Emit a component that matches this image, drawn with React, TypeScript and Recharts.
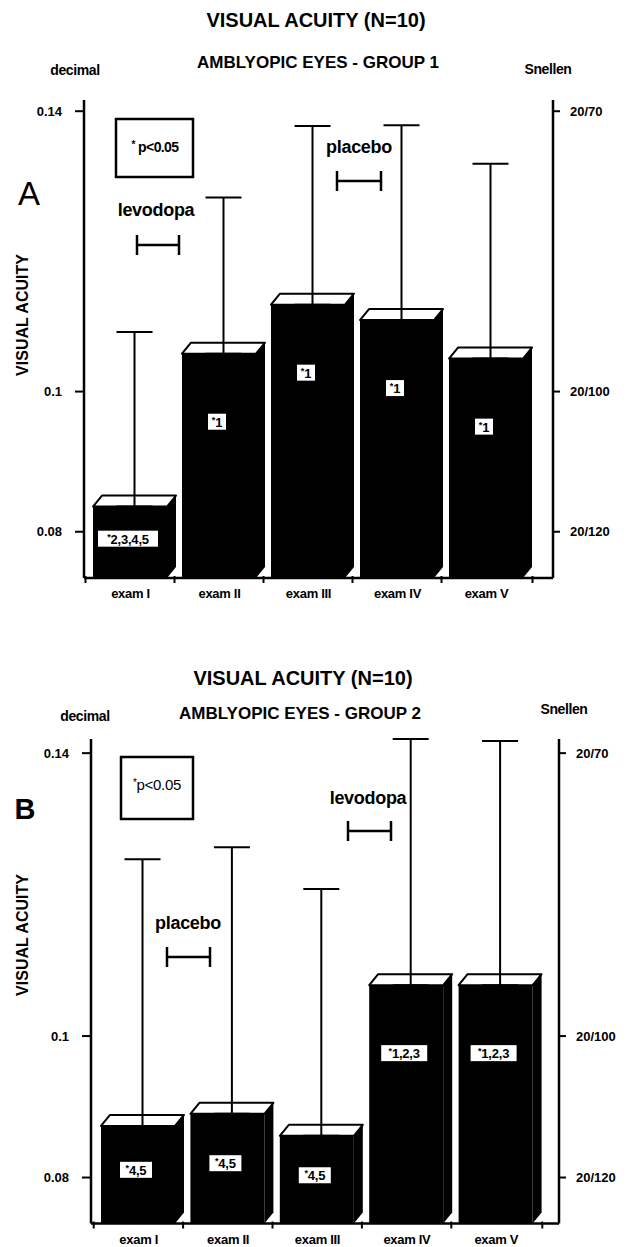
import React from 'react'
import { BarChart, Bar, XAxis, YAxis, ErrorBar, LabelList } from 'recharts'

const FONT = "'Liberation Sans', Arial, Helvetica, sans-serif"

const exams = ['exam I', 'exam II', 'exam III', 'exam IV', 'exam V']
const decimalTicks = [0.08, 0.1, 0.14]
const snellenTicks = ['20/120', '20/100', '20/70']

// group 1 (panel A): mean, top of whisker, significance vs other exams
const group1Mean = [0.0836, 0.1054, 0.1124, 0.1102, 0.1047]
const group1Upper = [0.1085, 0.1277, 0.1379, 0.138, 0.1325]
const group1Sig = ['2,3,4,5', '1', '1', '1', '1']

// group 2 (panel B)
const group2Mean = [0.0873, 0.089, 0.0859, 0.1072, 0.1072]
const group2Upper = [0.125, 0.1267, 0.1208, 0.142, 0.1417]
const group2Sig = ['4,5', '4,5', '4,5', '1,2,3', '1,2,3']

// depth of the pseudo-3D blocks
const DX = 9
const DY = 11

const buildRows = (mean: number[], upper: number[], sig: string[]) =>
  exams.map((exam, i) => ({ exam, mean: mean[i], err: [0, upper[i] - mean[i]], sig: sig[i] }))

function Block3D(props: any) {
  const { x, y, width, height } = props
  if (x == null || !height) return null
  const fw = width - DX
  const b = y + height
  return (
    <g>
      <rect x={x} y={y} width={fw} height={height} fill="#000" />
      <polygon points={`${x + fw},${y} ${x + width},${y - DY} ${x + width},${b - DY} ${x + fw},${b}`} fill="#000" />
      <polygon
        points={`${x},${y} ${x + DX},${y - DY} ${x + width},${y - DY} ${x + fw},${y}`}
        fill="#fff"
        stroke="#000"
        strokeWidth={2}
        strokeLinejoin="round"
      />
    </g>
  )
}

function SigLabel(props: any) {
  const vb = props.viewBox ?? props
  const { x, y, width, height } = vb
  if (x == null) return null
  const value = String(props.value)
  const cx = x + (width - DX) / 2 - 2
  const cy = y + Math.min(height * 0.45, 68)
  const w = value.length * 7 + 11
  return (
    <g>
      <rect x={cx - w / 2} y={cy - 8} width={w} height={16} fill="#fff" />
      <text x={cx} y={cy + 5} textAnchor="middle" fontFamily={FONT} fontWeight={700} fontSize={13} letterSpacing={-0.2} fill="#000">
        <tspan fontSize={9} dy={-4}>*</tspan>
        <tspan dy={4}>{value}</tspan>
      </text>
    </g>
  )
}

function ExamTick(props: any) {
  const { x, y, payload } = props
  const last = payload.value === exams[exams.length - 1]
  return (
    <g>
      <line x1={x - 49} y1={y - 2} x2={x - 49} y2={y + 5} stroke="#000" strokeWidth={2} />
      {last && <line x1={x + 42} y1={y - 2} x2={x + 42} y2={y + 5} stroke="#000" strokeWidth={2} />}
      <text x={x - 4} y={y + 20} textAnchor="middle" fontFamily={FONT} fontWeight={700} fontSize={13} letterSpacing={-0.3} fill="#000">
        {payload.value}
      </text>
    </g>
  )
}

const axisText = { fontSize: 13, fontWeight: 700, fill: '#000', fontFamily: FONT }

function Bracket({ x1, x2, y }: { x1: number; x2: number; y: number }) {
  return (
    <g stroke="#000" strokeWidth={2.5}>
      <line x1={x1} y1={y} x2={x2} y2={y} />
      <line x1={x1} y1={y - 10} x2={x1} y2={y + 10} />
      <line x1={x2} y1={y - 10} x2={x2} y2={y + 10} />
    </g>
  )
}

function T(p: { x: number; y: number; size: number; bold?: boolean; children: React.ReactNode; rotate?: boolean; ls?: number }) {
  return (
    <text
      x={p.x}
      y={p.y}
      textAnchor="middle"
      dominantBaseline="central"
      fontFamily={FONT}
      fontSize={p.size}
      fontWeight={p.bold === false ? 400 : 700}
      letterSpacing={p.ls ?? 0}
      fill="#000"
      transform={p.rotate ? `rotate(-90 ${p.x} ${p.y})` : undefined}
    >
      {p.children}
    </text>
  )
}

type PanelProps = {
  top: number
  height: number
  margin: { top: number; right: number; bottom: number; left: number }
  padding: { left: number; right: number }
  domain: [number, number]
  rows: any[]
  children: React.ReactNode
}

function Panel({ top, height, margin, padding, domain, rows, children }: PanelProps) {
  return (
    <div style={{ position: 'absolute', left: 0, top, width: 630, height }}>
      <BarChart width={630} height={height} data={rows} margin={margin}>
        <XAxis
          dataKey="exam"
          padding={padding}
          interval={0}
          height={30}
          tickLine={false}
          tickSize={0}
          tickMargin={0}
          axisLine={{ stroke: '#000', strokeWidth: 2.5 }}
          tick={<ExamTick />}
        />
        <YAxis
          yAxisId="l"
          type="number"
          domain={domain}
          ticks={decimalTicks}
          interval={0}
          width={60}
          tickSize={9}
          tickMargin={13}
          axisLine={{ stroke: '#000', strokeWidth: 2.5 }}
          tickLine={{ stroke: '#000', strokeWidth: 2 }}
          tick={axisText}
        />
        <YAxis
          yAxisId="r"
          orientation="right"
          type="number"
          domain={domain}
          allowDataOverflow
          ticks={decimalTicks}
          interval={0}
          width={60}
          tickSize={7}
          tickMargin={10}
          tickFormatter={(v: number) => snellenTicks[decimalTicks.indexOf(v)]}
          axisLine={{ stroke: '#000', strokeWidth: 2.5 }}
          tickLine={{ stroke: '#000', strokeWidth: 2 }}
          tick={axisText}
        />
        <Bar yAxisId="l" dataKey="mean" barSize={83} shape={<Block3D />} isAnimationActive={false}>
          <ErrorBar dataKey="err" width={18} strokeWidth={2} stroke="#000" direction="y" />
          <LabelList dataKey="sig" content={SigLabel} />
        </Bar>
      </BarChart>
      <svg width={630} height={height} style={{ position: 'absolute', left: 0, top: 0, pointerEvents: 'none' }}>
        {children}
      </svg>
    </div>
  )
}

export default function App() {
  const rows1 = buildRows(group1Mean, group1Upper, group1Sig)
  const rows2 = buildRows(group2Mean, group2Upper, group2Sig)
  return (
    <div style={{ position: 'absolute', left: 0, top: 0, width: 630, height: 1247, background: '#fff', overflow: 'hidden' }}>
      <Panel
        top={0}
        height={620}
        margin={{ top: 100, right: 17, bottom: 12, left: 24 }}
        padding={{ left: 6, right: 18 }}
        domain={[0.0734, 0.1416]}
        rows={rows1}
      >
        <T x={316} y={20} size={20}>VISUAL ACUITY (N=10)</T>
        <T x={318} y={62} size={17}>AMBLYOPIC EYES - GROUP 1</T>
        <T x={75} y={70} size={14} ls={-0.4}>decimal</T>
        <T x={548} y={69} size={14} ls={-0.4}>Snellen</T>
        <T x={29} y={193} size={33} bold={false}>A</T>
        <T x={22} y={315} size={16} rotate>VISUAL ACUITY</T>
        <rect x={116} y={119} width={77} height={58} fill="none" stroke="#000" strokeWidth={2.5} />
        <text x={155} y={152} textAnchor="middle" fontFamily={FONT} fontWeight={700} fontSize={14} letterSpacing={-0.6}>
          <tspan fontSize={10} dy={-4}>*</tspan>
          <tspan dy={4}> p&lt;0.05</tspan>
        </text>
        <T x={156} y={210} size={18} ls={-0.3}>levodopa</T>
        <Bracket x1={137} x2={179} y={245} />
        <T x={359} y={147} size={18} ls={-0.3}>placebo</T>
        <Bracket x1={337} x2={381} y={181} />
      </Panel>
      <Panel
        top={620}
        height={640}
        margin={{ top: 119, right: 11, bottom: 6.5, left: 31 }}
        padding={{ left: 7, right: 14 }}
        domain={[0.0735, 0.142]}
        rows={rows2}
      >
        <T x={303} y={58} size={20}>VISUAL ACUITY (N=10)</T>
        <T x={300} y={93} size={17}>AMBLYOPIC EYES - GROUP 2</T>
        <T x={85} y={96} size={14} ls={-0.4}>decimal</T>
        <T x={564} y={89} size={14} ls={-0.4}>Snellen</T>
        <T x={25} y={189} size={29}>B</T>
        <T x={22} y={315} size={16} rotate>VISUAL ACUITY</T>
        <rect x={121} y={137} width={72} height={62} fill="none" stroke="#000" strokeWidth={2.5} />
        <text x={157} y={170} textAnchor="middle" fontFamily={FONT} fontWeight={400} fontSize={15} letterSpacing={-0.3}>
          <tspan fontSize={10} dy={-4}>*</tspan>
          <tspan dy={4}>p&lt;0.05</tspan>
        </text>
        <T x={368} y={178} size={18} ls={-0.3}>levodopa</T>
        <Bracket x1={348} x2={391} y={211} />
        <T x={188} y={303} size={18} ls={-0.3}>placebo</T>
        <Bracket x1={167} x2={210} y={337} />
      </Panel>
    </div>
  )
}
